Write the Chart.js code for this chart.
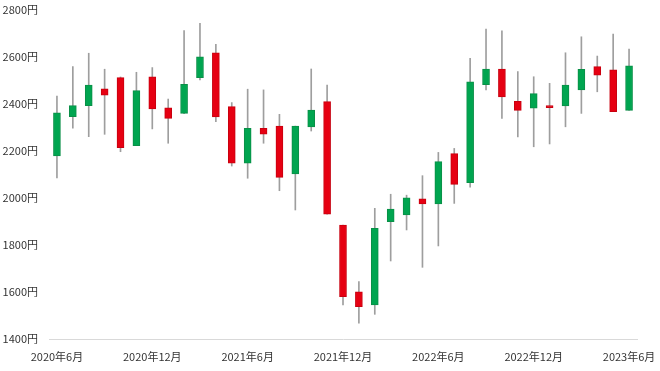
<!DOCTYPE html>
<html>
<head>
<meta charset="utf-8">
<script src="https://cdn.jsdelivr.net/npm/chart.js@4/dist/chart.umd.min.js"></script>
<style>
html,body{margin:0;padding:0;background:#fff;}
#wrap{width:660px;height:371px;}
</style>
</head>
<body>
<div id="wrap"><canvas id="c" width="660" height="371"></canvas></div>
<script>
const months = [
  "2020年6月","2020年7月","2020年8月","2020年9月","2020年10月","2020年11月",
  "2020年12月","2021年1月","2021年2月","2021年3月","2021年4月","2021年5月",
  "2021年6月","2021年7月","2021年8月","2021年9月","2021年10月","2021年11月",
  "2021年12月","2022年1月","2022年2月","2022年3月","2022年4月","2022年5月",
  "2022年6月","2022年7月","2022年8月","2022年9月","2022年10月","2022年11月",
  "2022年12月","2023年1月","2023年2月","2023年3月","2023年4月","2023年5月",
  "2023年6月"
];
const openPrices  = [2179,2346,2393,2465,2512,2223,2516,2384,2360,2512,2618,2389,2148,2297,2306,2102,2303,2410,1885,1601,1545,1899,1928,1996,1975,2189,2065,2482,2549,2411,2382,2393,2392,2460,2559,2545,2373];
const closePrices = [2362,2393,2481,2438,2214,2457,2379,2339,2484,2601,2345,2148,2297,2272,2088,2306,2374,1931,1580,1538,1871,1953,2001,1975,2155,2058,2494,2549,2430,2373,2444,2384,2481,2548,2523,2367,2562];
const highPrices  = [2434,2559,2616,2548,2515,2535,2555,2421,2712,2743,2654,2406,2463,2460,2356,2306,2549,2481,1885,1644,1956,2016,2012,2095,2194,2211,2594,2719,2711,2538,2516,2488,2618,2686,2604,2698,2634];
const lowPrices   = [2085,2297,2261,2271,2197,2223,2294,2233,2359,2502,2325,2136,2084,2233,2031,1949,2285,1931,1545,1467,1505,1732,1864,1705,1796,1977,2046,2460,2339,2260,2218,2230,2303,2360,2452,2367,2373];
const yTicks = [1400,1600,1800,2000,2200,2400,2600,2800];
const xLabelShown = ["2020年6月","2020年12月","2021年6月","2021年12月","2022年6月","2022年12月","2023年6月"];

const RED = '#E60012', GREEN = '#00A550', WICK = '#9E9E9E';
const bodyColors = openPrices.map((o,i)=> closePrices[i] >= o ? GREEN : RED);
const bodyBorders = openPrices.map((o,i)=> closePrices[i] >= o ? '#0A8F47' : '#C8000F');

new Chart(document.getElementById('c'), {
  type: 'bar',
  data: {
    labels: months,
    datasets: [
      {
        label: 'wick',
        data: lowPrices.map((l,i)=>[l, highPrices[i]]),
        backgroundColor: WICK,
        borderWidth: 0,
        barThickness: 1,
        grouped: false,
        order: 2
      },
      {
        label: 'body',
        data: openPrices.map((o,i)=>[o, closePrices[i]]),
        backgroundColor: bodyColors,
        borderColor: bodyBorders,
        borderWidth: 1,
        borderSkipped: false,
        barThickness: 7,
        grouped: false,
        order: 1
      }
    ]
  },
  options: {
    responsive: false,
    animation: false,
    devicePixelRatio: 1,
    layout: { padding: { left: 2, top: 10, right: 23, bottom: 0 } },
    plugins: { legend: { display: false }, tooltip: { enabled: false } },
    scales: {
      x: {
        offset: true,
        grid: { display: false, drawTicks: true, tickLength: 8 },
        border: { display: true, color: '#D9D9D9', width: 1 },
        ticks: {
          autoSkip: false,
          maxRotation: 0,
          minRotation: 0,
          padding: 3,
          color: '#333',
          font: { family: '"Noto Sans CJK JP", "Noto Sans", sans-serif', size: 11 },
          callback: function(v, i) {
            const lab = months[i];
            return xLabelShown.includes(lab) ? lab : '';
          }
        },
        afterFit: s => { s.height = 32; }
      },
      y: {
        min: 1400,
        max: 2800,
        grid: { display: false, drawTicks: true, tickLength: 8 },
        border: { display: false },
        afterBuildTicks: s => { s.ticks = yTicks.map(v => ({ value: v })); },
        afterFit: s => { s.width = 47; },
        ticks: {
          padding: 3,
          color: '#333',
          font: { family: '"Noto Sans CJK JP", "Noto Sans", sans-serif', size: 11 },
          callback: v => v + '円'
        }
      }
    }
  }
});
</script>
</body>
</html>
